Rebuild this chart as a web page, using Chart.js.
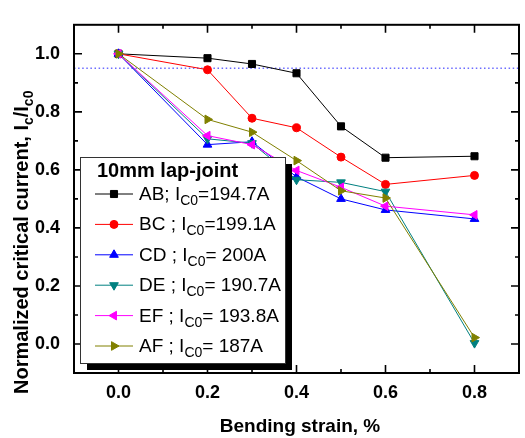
<!DOCTYPE html>
<html>
<head>
<meta charset="utf-8">
<script src="https://cdn.jsdelivr.net/npm/chart.js@4/dist/chart.umd.min.js"></script>
<style>
  body { margin: 0; background: #fff; }
  #wrap { width: 525px; height: 438px; }
</style>
</head>
<body>
<div id="wrap"><canvas id="chart" width="525" height="438"></canvas></div>
<script>
// --- Dados ---
const strain = [0, 0.2, 0.3, 0.4, 0.5, 0.6, 0.8];
const AB = [1.0, 0.985, 0.965, 0.933, 0.75, 0.642, 0.647];
const BC = [1.0, 0.945, 0.778, 0.745, 0.644, 0.55, 0.581];
const CD = [1.0, 0.687, 0.697, 0.576, 0.50, 0.462, 0.431];
const DE = [1.0, 0.707, 0.692, 0.566, 0.557, 0.525, 0.003];
const EF = [1.0, 0.718, 0.687, 0.598, 0.54, 0.475, 0.445];
const AF = [1.0, 0.774, 0.73, 0.632, 0.528, 0.503, 0.022];

const seriesNames = ['AB; ', 'BC ; ', 'CD ; ', 'DE ; ', 'EF ; ', 'AF ; '];
const seriesIc0 = ['=194.7A', '=199.1A', '= 200A', '= 190.7A', '= 193.8A', '= 187A'];
const legendTitle = '10mm lap-joint';

const xMajor = [0, 0.2, 0.4, 0.6, 0.8];
const xMinor = [0.1, 0.3, 0.5, 0.7];
const yMajor = [0, 0.2, 0.4, 0.6, 0.8, 1.0];
const yMinor = [0.1, 0.3, 0.5, 0.7, 0.9];
const refLevel = 0.95;

// --- Estilos ---
const allSeries = [AB, BC, CD, DE, EF, AF];
const colors = ['#000000', '#ff0000', '#0000ff', '#008080', '#ff00ff', '#808000'];
const shapes = ['rect', 'circle', 'triangle', 'triangle', 'triangle', 'triangle'];
const rotations = [0, 0, 0, 180, -90, 90];
const radii = [5, 4, 5, 5, 5, 5];
const FONT = '"Liberation Sans", Arial, sans-serif';

const datasets = allSeries.map((s, i) => ({
    label: seriesNames[i],
    data: s.map((v, j) => ({ x: strain[j], y: v })),
    borderColor: colors[i],
    backgroundColor: colors[i],
    borderWidth: 1,
    pointStyle: shapes[i],
    rotation: rotations[i],
    pointRadius: radii[i],
    pointBorderWidth: 1,
    order: -i,
    tension: 0
}));

// --- Desenho manual: moldura, ticks, legenda, títulos ---
const decor = {
    id: 'decor',
    beforeDraw(chart) {
        const ctx = chart.ctx;
        ctx.save();
        ctx.fillStyle = '#fff';
        ctx.fillRect(0, 0, chart.width, chart.height);
        ctx.restore();
    },
    beforeDatasetsDraw(chart) {
        const { ctx, chartArea: a, scales: { y } } = chart;
        const py = y.getPixelForValue(refLevel);
        ctx.save();
        ctx.strokeStyle = '#6b6bff';
        ctx.lineWidth = 1.5;
        ctx.setLineDash([1.5, 2.6]);
        ctx.beginPath();
        ctx.moveTo(a.left, py);
        ctx.lineTo(a.right, py);
        ctx.stroke();
        ctx.restore();
    },
    afterDatasetsDraw(chart) {
        const { ctx, chartArea: a, scales: { x, y } } = chart;
        ctx.save();
        ctx.strokeStyle = '#000';
        ctx.lineWidth = 1.6;
        ctx.beginPath();
        const tick = (vals, len) => {
            vals.forEach(v => {
                const px = x.getPixelForValue(v);
                ctx.moveTo(px, a.bottom); ctx.lineTo(px, a.bottom - len);
                ctx.moveTo(px, a.top); ctx.lineTo(px, a.top + len);
            });
        };
        const tickY = (vals, len) => {
            vals.forEach(v => {
                const py = y.getPixelForValue(v);
                ctx.moveTo(a.left, py); ctx.lineTo(a.left + len, py);
                ctx.moveTo(a.right, py); ctx.lineTo(a.right - len, py);
            });
        };
        tick(xMajor, 8); tick(xMinor, 4);
        tickY(yMajor, 8); tickY(yMinor, 4);
        ctx.stroke();
        ctx.lineWidth = 2;
        ctx.strokeRect(a.left, a.top, a.right - a.left, a.bottom - a.top);
        ctx.restore();
    },
    afterDraw(chart) {
        const ctx = chart.ctx;
        ctx.save();

        // legenda
        const bx = 80, by = 157, bw = 205, bh = 206, sh = 7;
        ctx.fillStyle = '#000';
        ctx.fillRect(bx + bw, by + sh, sh, bh);
        ctx.fillRect(bx + sh, by + bh, bw, sh);
        ctx.fillStyle = '#fff';
        ctx.fillRect(bx, by, bw, bh);
        ctx.strokeStyle = '#333';
        ctx.lineWidth = 1;
        ctx.strokeRect(bx + 0.5, by + 0.5, bw, bh);

        ctx.fillStyle = '#000';
        ctx.textBaseline = 'alphabetic';
        ctx.font = 'bold 20px ' + FONT;
        ctx.fillText(legendTitle, 97, 177);

        datasets.forEach((ds, i) => {
            const ly = 194 + i * 30.4;
            ctx.strokeStyle = ds.borderColor;
            ctx.lineWidth = 1;
            ctx.beginPath();
            ctx.moveTo(95, ly); ctx.lineTo(133, ly);
            ctx.stroke();
            ctx.fillStyle = ds.backgroundColor;
            Chart.helpers.drawPoint(ctx, {
                pointStyle: ds.pointStyle, rotation: ds.rotation,
                radius: ds.pointRadius, borderWidth: 1
            }, 114, ly);
            ctx.fillStyle = '#000';
            let tx = 139;
            const base = ly + 6;
            ctx.font = '19px ' + FONT;
            const t1 = seriesNames[i] + 'I';
            ctx.fillText(t1, tx, base); tx += ctx.measureText(t1).width;
            ctx.font = '14px ' + FONT;
            ctx.fillText('C0', tx, base + 5); tx += ctx.measureText('C0').width;
            ctx.font = '19px ' + FONT;
            ctx.fillText(seriesIc0[i], tx, base);
        });

        // título do eixo y
        ctx.translate(28, 394);
        ctx.rotate(-Math.PI / 2);
        let tx = 0;
        const parts = [['Normalized critical current, I', 0], ['c', 1], ['/I', 0], ['c0', 1]];
        parts.forEach(([t, sub]) => {
            ctx.font = sub ? 'bold 14px ' + FONT : 'bold 20px ' + FONT;
            ctx.fillText(t, tx, sub ? 5 : 0);
            tx += ctx.measureText(t).width;
        });
        ctx.setTransform(1, 0, 0, 1, 0, 0);

        // título do eixo x
        ctx.font = 'bold 19px ' + FONT;
        ctx.textAlign = 'center';
        ctx.fillText('Bending strain, %', 300, 432);
        ctx.restore();
    }
};

const ctx = document.getElementById('chart').getContext('2d');
new Chart(ctx, {
    type: 'line',
    data: { datasets },
    options: {
        responsive: false,
        animation: false,
        layout: { padding: { top: 5, right: 1, left: 0, bottom: 0 } },
        plugins: { legend: { display: false }, tooltip: { enabled: false } },
        scales: {
            x: {
                type: 'linear', min: -0.1, max: 0.9,
                afterBuildTicks: s => { s.ticks = xMajor.map(v => ({ value: v })); },
                afterFit: s => { s.height = 65; },
                grid: { display: false, drawTicks: false },
                border: { display: false },
                ticks: {
                    padding: 9, color: '#000', maxRotation: 0,
                    font: { family: FONT, size: 18, weight: 'bold' },
                    callback: v => v.toFixed(1)
                }
            },
            y: {
                type: 'linear', min: -0.1, max: 1.1,
                afterBuildTicks: s => { s.ticks = yMajor.map(v => ({ value: v })); },
                afterFit: s => { s.width = 74; },
                grid: { display: false, drawTicks: false },
                border: { display: false },
                ticks: {
                    padding: 14, color: '#000',
                    font: { family: FONT, size: 18, weight: 'bold' },
                    callback: v => v.toFixed(1)
                }
            }
        }
    },
    plugins: [decor]
});
</script>
</body>
</html>
